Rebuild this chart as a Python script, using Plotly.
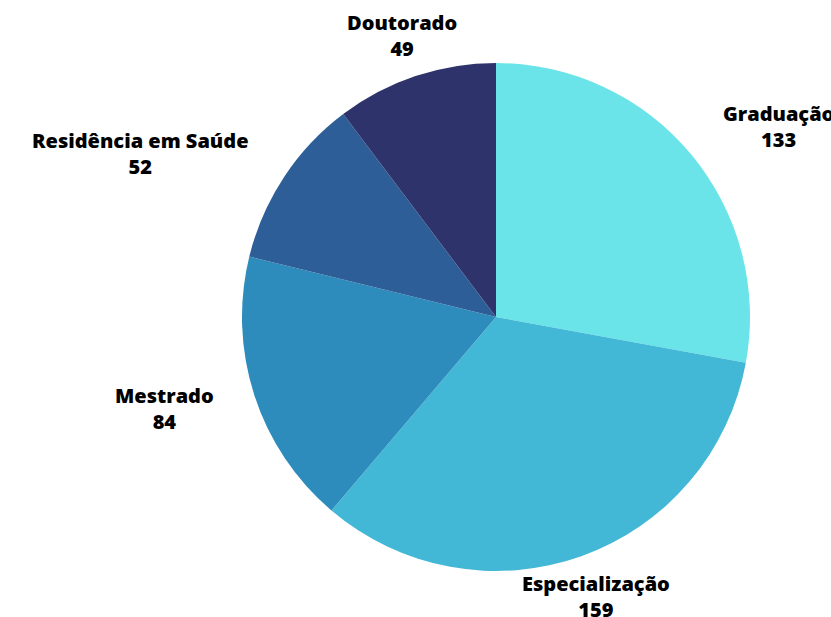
import math
import plotly.graph_objects as go

categories = ["Graduação", "Especialização", "Mestrado", "Residência em Saúde", "Doutorado"]
values = [133, 159, 84, 52, 49]
colors = ["#6AE4E8", "#43B8D6", "#2D8CBB", "#2E5E98", "#2F336B"]

W, H = 831, 617
CX, CY, R = 496, 317, 254
LABEL_R = R + 43
SIDE_PAD = 2

fig = go.Figure(go.Pie(
    labels=categories, values=values, sort=False, direction="clockwise", rotation=0,
    marker=dict(colors=colors, line=dict(width=0)),
    textinfo="none", hoverinfo="label+value", showlegend=False,
    domain=dict(x=[(CX - R) / W, (CX + R) / W], y=[1 - (CY + R) / H, 1 - (CY - R) / H]),
))

total = sum(values)
cum = 0
annotations = []
for lab, v in zip(categories, values):
    mid = (cum + v / 2) / total * 2 * math.pi
    cum += v
    ux, uy = math.sin(mid), math.cos(mid)
    px = CX + ux * LABEL_R
    py = CY - uy * LABEL_R
    if abs(ux) < 0.5:
        xa, xs = "center", 0
    elif ux > 0:
        xa, xs = "left", -SIDE_PAD
    else:
        xa, xs = "right", SIDE_PAD
    annotations.append(dict(
        x=px / W, y=1 - py / H, xref="paper", yref="paper", xshift=xs,
        text=f"{lab}<br>{v}", showarrow=False, xanchor=xa, yanchor="middle", align="center",
        borderpad=0,
        font=dict(family="Open Sans", size=20, color="#000000", weight=800),
    ))

fig.update_layout(
    width=W, height=H, margin=dict(l=0, r=0, t=0, b=0),
    paper_bgcolor="white", plot_bgcolor="white",
    annotations=annotations,
)
fig.write_html("out.html", config={"displayModeBar": False},
               post_script="document.body.style.margin='0';document.body.style.overflow='hidden';")
